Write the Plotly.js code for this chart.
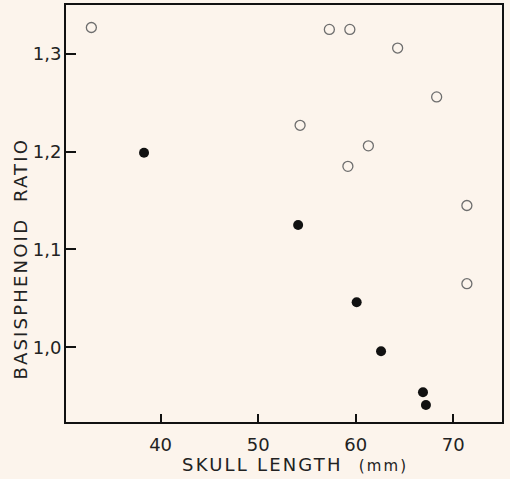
<!DOCTYPE html>
<html>
<head>
<meta charset="utf-8">
<script src="https://cdn.plot.ly/plotly-3.0.1.min.js"></script>
<style>
html,body{margin:0;padding:0;background:#fcf4ec;}
#chart{width:510px;height:479px;}
.annotation-text{letter-spacing:2.2px;}
</style>
</head>
<body>
<div id="chart"></div>
<script>
// Open circles
const openX = [32.9, 57.3, 59.4, 64.3, 68.3, 54.3, 61.3, 59.2, 71.4, 71.4];
const openY = [1.327, 1.325, 1.325, 1.306, 1.256, 1.227, 1.206, 1.185, 1.145, 1.065];
// Filled circles
const filledX = [38.3, 54.1, 60.1, 62.6, 66.9, 67.2];
const filledY = [1.199, 1.125, 1.046, 0.996, 0.954, 0.941];
// Ticks
const xTickVals = [40, 50, 60, 70];
const xTickText = ['40', '50', '60', '70'];
const yTickVals = [1.0, 1.1, 1.2, 1.3];
const yTickText = ['1,0', '1,1', '1,2', '1,3'];
const xTitle = 'SKULL LENGTH  <span style="font-size:15px">(mm)</span>';
const yTitle = 'BASISPHENOID  RATIO';

const font = 'DejaVu Sans, sans-serif';

const traces = [
  {
    x: openX, y: openY, type: 'scatter', mode: 'markers',
    marker: {symbol: 'circle-open', size: 10, color: '#6e6e6e', line: {width: 1.3, color: '#6e6e6e'}},
    hoverinfo: 'x+y'
  },
  {
    x: filledX, y: filledY, type: 'scatter', mode: 'markers',
    marker: {symbol: 'circle', size: 10, color: '#111'},
    hoverinfo: 'x+y'
  }
];

const layout = {
  width: 510, height: 479,
  paper_bgcolor: '#fcf4ec', plot_bgcolor: '#fcf4ec',
  showlegend: false,
  margin: {l: 66, r: 8, t: 5, b: 57},
  font: {family: font, color: '#222', size: 18},
  xaxis: {
    range: [30.3, 75.0], autorange: false,
    tickvals: xTickVals, ticktext: xTickText,
    ticks: 'inside', ticklen: 8, tickwidth: 1.5, tickcolor: '#111',
    showline: true, linecolor: '#111', linewidth: 2, mirror: true,
    showgrid: false, zeroline: false,
    ticklabelstandoff: 5,
    tickfont: {family: font, size: 18, color: '#222'}
  },
  yaxis: {
    range: [0.9236, 1.350], autorange: false,
    tickvals: yTickVals, ticktext: yTickText,
    ticks: 'inside', ticklen: 10, tickwidth: 1.5, tickcolor: '#111',
    showline: true, linecolor: '#111', linewidth: 2, mirror: true,
    showgrid: false, zeroline: false,
    ticklabelstandoff: -1,
    tickfont: {family: font, size: 18, color: '#222'}
  },
  annotations: [
    {text: xTitle, xref: 'paper', yref: 'paper', x: 0.525, y: -0.103,
     xanchor: 'center', yanchor: 'middle', showarrow: false,
     font: {family: font, size: 18, color: '#222'}},
    {text: yTitle, xref: 'paper', yref: 'paper', x: -0.1044, y: 0.393,
     xanchor: 'center', yanchor: 'middle', showarrow: false, textangle: -90,
     font: {family: font, size: 18, color: '#222'}}
  ]
};

Plotly.newPlot('chart', traces, layout, {displayModeBar: false});
</script>
</body>
</html>
